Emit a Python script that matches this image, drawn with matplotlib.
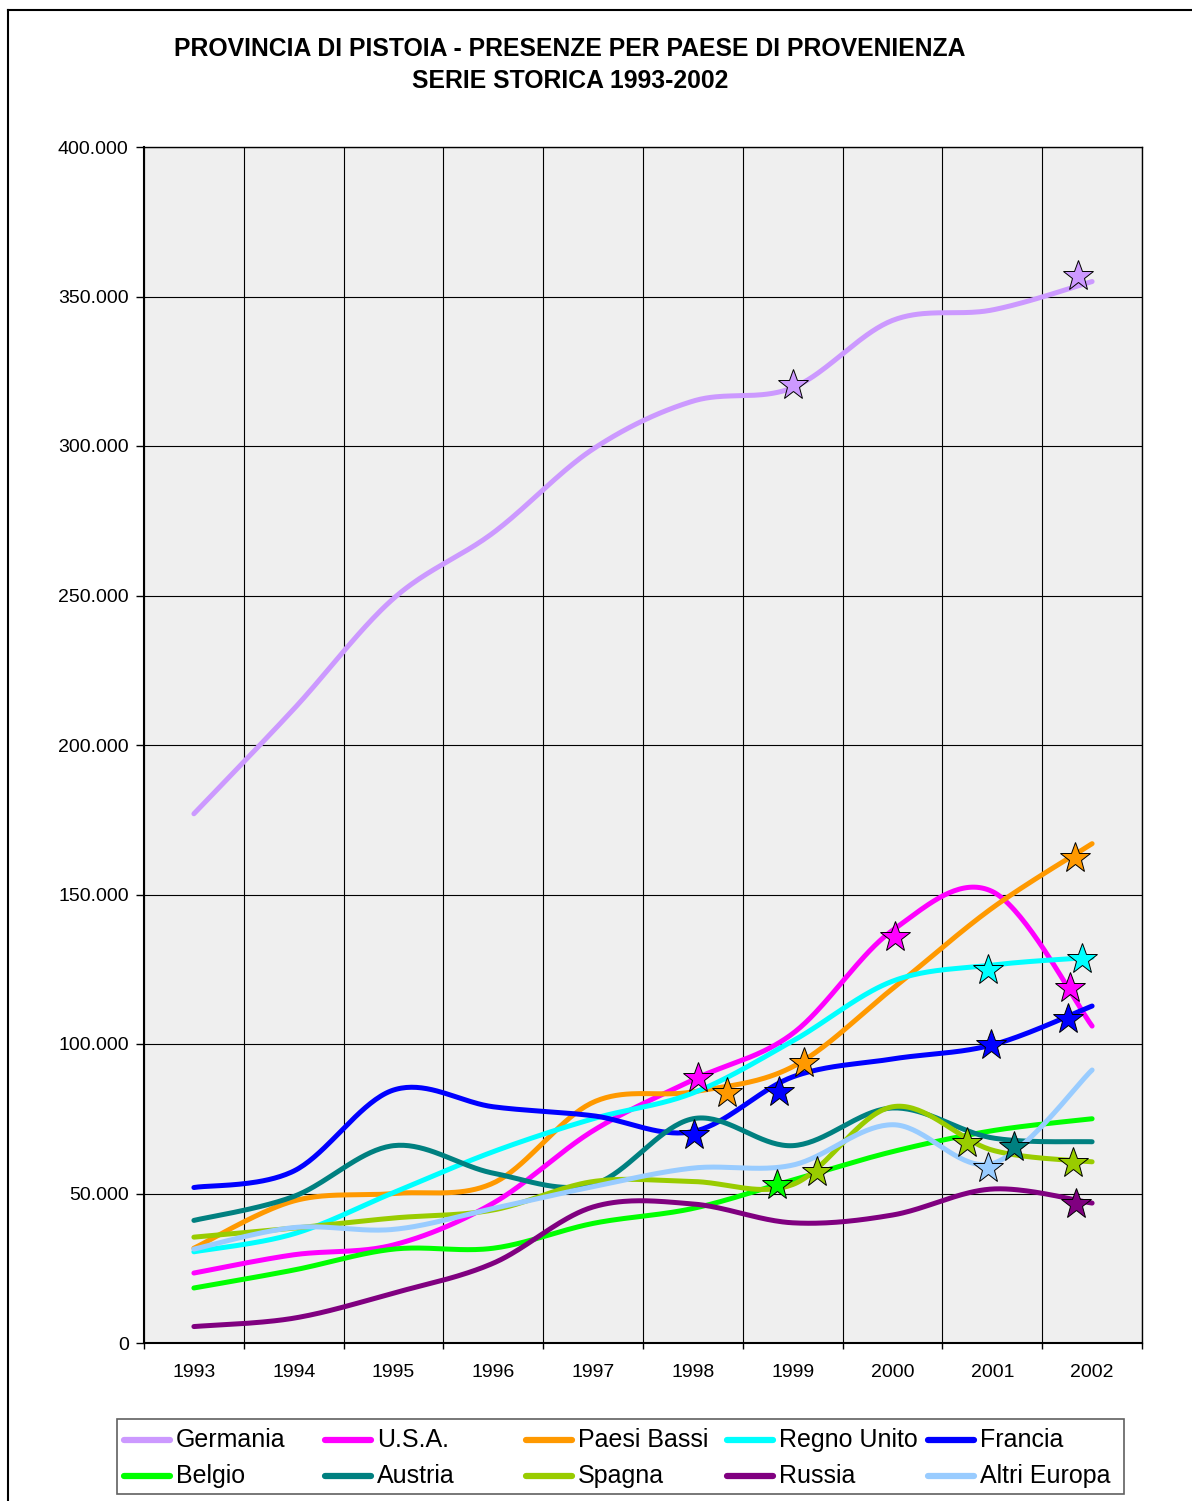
import numpy as np
import matplotlib
matplotlib.use('Agg')
import matplotlib.pyplot as plt
from matplotlib.lines import Line2D
from matplotlib.patches import Rectangle
from matplotlib.ticker import FuncFormatter

plt.rcParams['font.family'] = ['Liberation Sans', 'DejaVu Sans']

# dati (presenze)
anni = [1993, 1994, 1995, 1996, 1997, 1998, 1999, 2000, 2001, 2002]
germania = [177000, 212000, 249000, 271000, 299000, 315000, 319500, 342000, 345500, 355000]
usa = [23400, 29500, 32800, 46800, 71000, 88000, 103500, 138000, 151000, 106000]
paesi_bassi = [31700, 47500, 50000, 53500, 80500, 84000, 92400, 118500, 145500, 167000]
regno_unito = [30500, 36500, 50300, 64000, 75000, 83600, 101000, 121000, 126400, 129000]
francia = [52000, 57500, 84600, 79000, 76000, 70700, 89000, 95000, 99700, 112700]
belgio = [18400, 24400, 31400, 31700, 40000, 45000, 54500, 64000, 71000, 75000]
austria = [41000, 49000, 66000, 56800, 53000, 75000, 66000, 78600, 68600, 67300]
spagna = [35400, 38400, 41800, 44500, 54000, 54000, 53000, 79000, 64500, 60600]
russia = [5500, 8300, 16700, 26700, 45500, 46500, 40200, 42800, 51500, 46800]
altri_europa = [31400, 38600, 38000, 45000, 52300, 58500, 59500, 73000, 60000, 91300]

paesi = ['Germania', 'U.S.A.', 'Paesi Bassi', 'Regno Unito', 'Francia',
         'Belgio', 'Austria', 'Spagna', 'Russia', 'Altri Europa']
serie = [germania, usa, paesi_bassi, regno_unito, francia,
         belgio, austria, spagna, russia, altri_europa]
colori = ['#CC99FF', '#FF00FF', '#FF9900', '#00FFFF', '#0000FF',
          '#00FF00', '#008080', '#99CC00', '#800080', '#99CCFF']

# stelle disegnate sopra le linee: (paese, anno, valore)
stelle_paese = ['Germania', 'Germania', 'U.S.A.', 'Paesi Bassi', 'Francia', 'Francia',
                'Paesi Bassi', 'Belgio', 'Spagna', 'U.S.A.', 'Spagna', 'Altri Europa',
                'Austria', 'Spagna', 'Russia', 'Francia', 'Francia', 'Paesi Bassi',
                'Regno Unito', 'Regno Unito', 'U.S.A.']
stelle_x = [1999.0, 2001.86, 1998.05, 1998.34, 1998.01, 1998.86,
            1999.11, 1998.84, 1999.24, 2000.03, 2000.75, 2000.96,
            2001.22, 2001.81, 2001.84, 2000.99, 2001.76, 2001.83,
            2000.96, 2001.9, 2001.78]
stelle_y = [320500, 356900, 88500, 83500, 69600, 84000,
            93500, 52800, 57300, 135900, 66800, 58400,
            65700, 60100, 46500, 99700, 108300, 162100,
            124700, 128300, 118600]


def smussa(x, y, n=40):
    # curva smussata tipo Excel (bezier con tangenti alla Catmull-Rom)
    x = np.asarray(x, float)
    y = np.asarray(y, float)
    px = np.concatenate([[x[0]], x, [x[-1]]])
    py = np.concatenate([[y[0]], y, [y[-1]]])
    t = np.linspace(0, 1, n)
    xs, ys = [], []
    for i in range(len(x) - 1):
        p0 = np.array([px[i], py[i]])
        p1 = np.array([px[i + 1], py[i + 1]])
        p2 = np.array([px[i + 2], py[i + 2]])
        p3 = np.array([px[i + 3], py[i + 3]])
        c1 = p1 + (p2 - p0) / 6
        c2 = p2 - (p3 - p1) / 6
        b = (np.outer((1 - t) ** 3, p1) + np.outer(3 * (1 - t) ** 2 * t, c1)
             + np.outer(3 * (1 - t) * t ** 2, c2) + np.outer(t ** 3, p2))
        xs.extend(b[:, 0])
        ys.extend(b[:, 1])
    return xs, ys


W, H = 1192, 1501
fig = plt.figure(figsize=(W / 100, H / 100), dpi=100)
ax = fig.add_axes([144 / W, 1 - 1343 / H, 998 / W, 1196 / H])
ax.set_facecolor('#EFEFEF')

for nome, valori, col in zip(paesi, serie, colori):
    sx, sy = smussa(anni, valori)
    ax.plot(sx, sy, color=col, lw=3.6, solid_capstyle='round', zorder=3)

for p, sx, sy in zip(stelle_paese, stelle_x, stelle_y):
    ax.plot(sx, sy, marker='*', ms=23, color=colori[paesi.index(p)],
            mec='black', mew=0.7, ls='none', zorder=5)

ax.set_xlim(anni[0] - 0.5, anni[-1] + 0.5)
ax.set_ylim(0, 400000)
ax.set_yticks(np.arange(0, 400001, 50000))
ax.yaxis.set_major_formatter(FuncFormatter(lambda v, p: f"{v:,.0f}".replace(',', '.')))
ax.set_xticks(np.arange(anni[0] - 0.5, anni[-1] + 1, 1))
ax.set_xticklabels([])
ax.set_xticks(anni, minor=True)
ax.set_xticklabels([str(a) for a in anni], minor=True)
ax.tick_params(axis='x', which='major', length=4, width=1, direction='out')
ax.tick_params(axis='x', which='minor', length=0, pad=15, labelsize=14)
ax.tick_params(axis='y', length=6, width=1, direction='out', pad=5, labelsize=14)
ax.grid(True, which='major', color='black', lw=0.8, zorder=1)
ax.set_axisbelow(True)
for s in ax.spines.values():
    s.set_color('black')
    s.set_linewidth(1.0)
ax.spines['left'].set_linewidth(1.5)
ax.spines['bottom'].set_linewidth(1.5)

fig.text(570 / W, 1 - 49 / H, 'PROVINCIA DI PISTOIA - PRESENZE PER PAESE DI PROVENIENZA',
         ha='center', va='center', fontsize=17.8, fontweight='bold')
fig.text(570 / W, 1 - 81 / H, 'SERIE STORICA 1993-2002',
         ha='center', va='center', fontsize=17.8, fontweight='bold')

# cornice esterna
fig.add_artist(Line2D([8 / W, 1], [1 - 10 / H, 1 - 10 / H], color='black', lw=1.5))
fig.add_artist(Line2D([8 / W, 8 / W], [0, 1 - 10 / H], color='black', lw=1.5))

# legenda
fig.add_artist(Rectangle((117 / W, 1 - 1494 / H), (1124 - 117) / W, (1494 - 1419) / H,
                         facecolor='white', edgecolor='#606060', lw=1.2))
for i, (nome, col) in enumerate(zip(paesi, colori)):
    r, c = divmod(i, 5)
    x0 = (124 + 201 * c) / W
    y0 = 1 - (1440 + 36 * r) / H
    fig.add_artist(Line2D([x0, x0 + 46 / W], [y0, y0], color=col, lw=4.5,
                          solid_capstyle='round'))
    fig.text(x0 + 52 / W, y0, nome, ha='left', va='center', fontsize=18)

fig.savefig('out.png', dpi=100)
